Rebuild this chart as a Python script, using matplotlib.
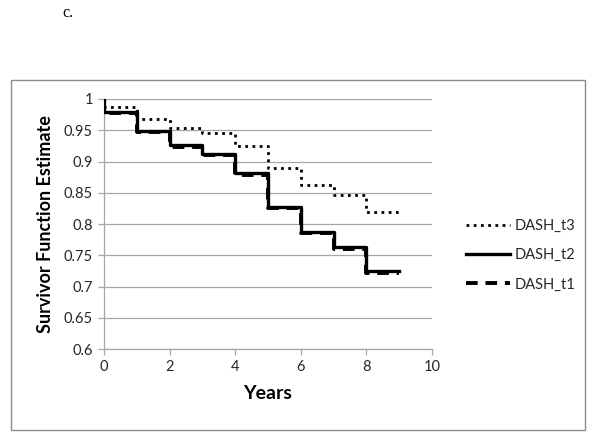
import matplotlib
matplotlib.use("Agg")
import matplotlib.pyplot as plt
import matplotlib.patches as mp
import numpy as np

plt.rcParams["font.family"] = ["Lato", "DejaVu Sans"]

# survival estimates at the start of each year (step drops at year boundaries)
years = [0, 1, 2, 3, 4, 5, 6, 7, 8]
end_year = 9
dash_t3 = [0.988, 0.968, 0.954, 0.946, 0.925, 0.889, 0.862, 0.846, 0.820]
dash_t2 = [0.979, 0.949, 0.926, 0.912, 0.881, 0.828, 0.788, 0.763, 0.725]
dash_t1 = [0.978, 0.947, 0.924, 0.910, 0.879, 0.825, 0.785, 0.760, 0.722]
xticks = [0, 2, 4, 6, 8, 10]
yticks = [0.6, 0.65, 0.7, 0.75, 0.8, 0.85, 0.9, 0.95, 1]

def steps(vals):
    # start at 1 at time 0, then drop; hold last value until end_year
    x = np.r_[0, years, end_year]
    y = np.r_[1.0, vals, vals[-1]]
    return x, y

GRID = "#a6a6a6"
INK = "#262626"

fig = plt.figure(figsize=(6, 4.4), dpi=100)
fig.patch.set_facecolor("white")
ax = fig.add_axes([0.1733, 0.2068, 0.5467, 0.5682])

# outer chart-area frame
fig.patches.append(mp.Rectangle((0.0183, 0.0227), 0.9567, 0.7953, transform=fig.transFigure,
                                fill=False, ec="#8c8c8c", lw=1.0))

x1, y1 = steps(dash_t1)
x2, y2 = steps(dash_t2)
x3, y3 = steps(dash_t3)
ax.step(x1, y1, where="post", color="black", lw=2.8, ls=(0, (3, 2)), label="DASH_t1", zorder=3)
ax.step(x2, y2, where="post", color="black", lw=2.4, ls="-", label="DASH_t2", zorder=4)
ax.step(x3, y3, where="post", color="black", lw=2.0, ls=(0, (1, 1.6)), label="DASH_t3", zorder=5)

ax.set_xlim(0, 10)
ax.set_ylim(0.6, 1.0)
ax.set_xticks(xticks)
ax.set_yticks(yticks)
ax.set_yticklabels([f"{v:g}" for v in yticks])
ax.yaxis.grid(True, color=GRID, lw=0.9)
ax.set_axisbelow(True)
for s in ["top", "right"]:
    ax.spines[s].set_visible(False)
for s in ["left", "bottom"]:
    ax.spines[s].set_color(GRID)
    ax.spines[s].set_linewidth(0.9)
ax.tick_params(direction="out", length=4, width=0.9, color=GRID, labelsize=10.5,
               labelcolor=INK, pad=4)

ax.set_xlabel("Years", fontsize=14, fontweight="bold", color="black", labelpad=8)
ax.set_ylabel("Survivor Function Estimate", fontsize=13, fontweight="bold", color="black",
              labelpad=7)

h, l = ax.get_legend_handles_labels()
order = [2, 1, 0]
ax.legend([h[i] for i in order], [l[i] for i in order], loc="center left",
          bbox_to_anchor=(0.755, 0.42), bbox_transform=fig.transFigure, frameon=False,
          fontsize=10.5, handlelength=3.0, handletextpad=0.3, labelspacing=1.05,
          labelcolor=INK)

fig.text(0.113, 0.97, "c.", family=["Liberation Serif", "DejaVu Serif"], fontsize=11.5,
         ha="center", va="center")

fig.savefig("out.png", dpi=100, facecolor="white")
